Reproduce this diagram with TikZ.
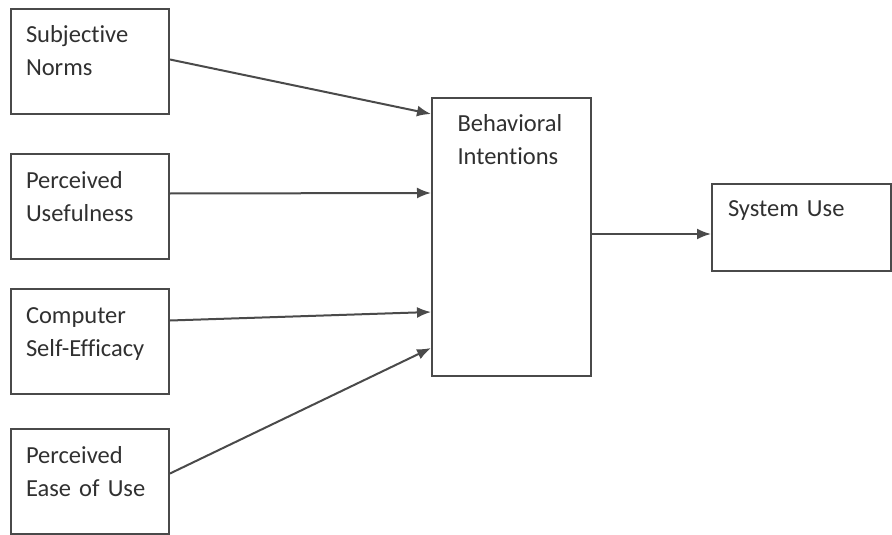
\documentclass[tikz,border=0pt]{standalone}
\usepackage{fontspec}
\setmainfont{Carlito}[Ligatures={NoCommon}, WordSpace=0.6]
\usetikzlibrary{arrows.meta}
\definecolor{linegray}{HTML}{4A4A4A}
\definecolor{textgray}{HTML}{303030}

\begin{document}
\begin{tikzpicture}[x=1pt, y=-1pt]
    % Styles
    \tikzstyle{factor} = [rectangle, draw=linegray, line width=2pt, anchor=north west, align=left, text=textgray, font=\fontsize{24.5}{33}\selectfont, text width=128pt, inner xsep=15pt, inner ysep=10pt, text height=24pt, text depth=61pt]
    \tikzstyle{arrow} = [-{Latex[length=14pt, width=11pt]}, draw=linegray, line width=2pt]

    \useasboundingbox (0, 0) rectangle (892, 535);

    % Nodes - four factors on the left
    \node[factor] (sn) at (10, 8) {Subjective\\Norms};
    \node[factor] (pu) at (10, 153) {Perceived\\Usefulness};
    \node[factor] (cse) at (10, 288) {Computer\\Self-Efficacy};
    \node[factor] (peou) at (10, 428) {Perceived\\Ease of Use};

    % Intention and use
    \node[factor, text width=108pt, inner xsep=25.5pt, inner ysep=9pt, text depth=236pt] (bi) at (431, 97) {Behavioral\\Intentions};
    \node[factor, text width=147pt, inner xsep=16pt, inner ysep=9pt, text height=23pt, text depth=46pt] (su) at (711, 183) {System Use};

    % Arrows
    \draw[arrow] ([yshift=2pt]sn.east) -- ([yshift=123pt]bi.west);
    \draw[arrow] ([yshift=13pt]pu.east) -- ([yshift=44pt]bi.west);
    \draw[arrow] ([yshift=21pt]cse.east) -- ([yshift=-75pt]bi.west);
    \draw[arrow] ([yshift=8pt]peou.east) -- ([yshift=-111pt]bi.west);
    \draw[arrow] ([yshift=3pt]bi.east) -- ([yshift=3pt]bi.east -| su.west);
\end{tikzpicture}
\end{document}
